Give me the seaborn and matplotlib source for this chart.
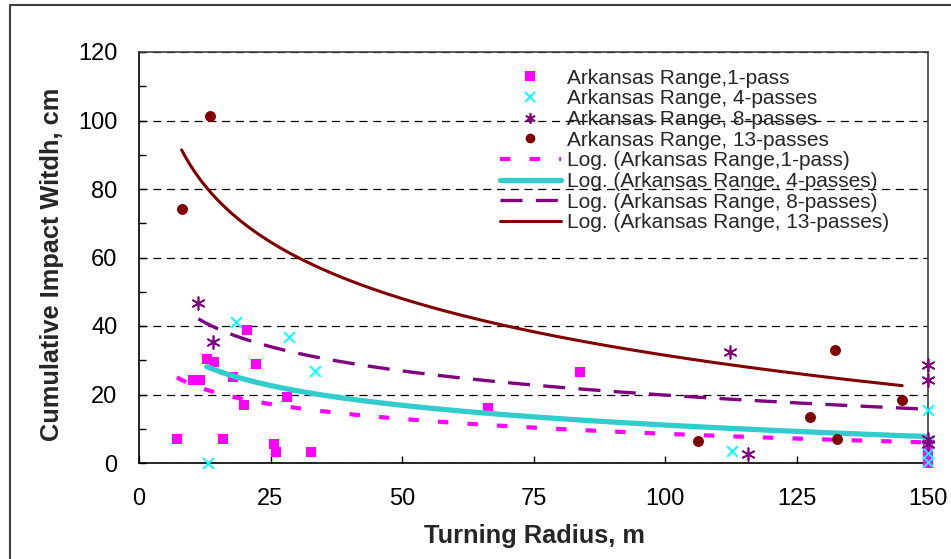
import numpy as np
import pandas as pd
import matplotlib
matplotlib.use("Agg")
import matplotlib.pyplot as plt
import seaborn as sns
from matplotlib.lines import Line2D
from matplotlib.ticker import MultipleLocator

sns.set_theme(style="white")
plt.rcParams['font.family'] = ['Liberation Sans', 'DejaVu Sans']

# ---------------- data ----------------
x_1pass = [7.2, 10.3, 11.6, 13.0, 14.3, 16.0, 17.8, 20.5, 20.0, 22.3, 25.7, 26.0,
           28.2, 32.7, 66.4, 83.8, 150, 150, 150, 150, 150]
y_1pass = [7.0, 24.2, 24.2, 30.4, 29.5, 7.0, 25.2, 38.7, 16.9, 29.0, 5.6, 3.3,
           19.2, 3.3, 16.1, 26.7, 6.0, 4.5, 3.0, 1.5, 0.0]

x_4pass = [13.1, 18.5, 28.6, 33.5, 112.8, 150, 150, 150, 150]
y_4pass = [0.0, 41.3, 36.9, 26.9, 3.5, 15.5, 6.0, 2.8, 0.3]

x_8pass = [11.3, 14.0, 112.4, 115.8, 150, 150, 150, 150]
y_8pass = [46.8, 35.2, 32.4, 2.6, 28.6, 24.1, 7.0, 5.5]

x_13pass = [8.1, 13.5, 106.3, 127.5, 132.4, 132.7, 145.1]
y_13pass = [74.2, 101.2, 6.5, 13.5, 33.1, 6.9, 18.3]

series_labels = ["Arkansas Range,1-pass", "Arkansas Range, 4-passes",
                 "Arkansas Range, 8-passes", "Arkansas Range, 13-passes"]

# logarithmic trendlines  y = a*ln(x) + b  (coefficients)
trend_a = [-6.26, -8.32, -10.2, -23.85]
trend_b = [37.36, 49.4, 66.8, 141.3]
trend_xmin = [7.2, 12.9, 11.3, 8.1]
trend_xmax = [150, 150, 150, 145.1]
trend_labels = ["Log. (Arkansas Range,1-pass)", "Log. (Arkansas Range, 4-passes)",
                "Log. (Arkansas Range, 8-passes)", "Log. (Arkansas Range, 13-passes)"]

x_ticks = [0, 25, 50, 75, 100, 125, 150]
y_ticks = [0, 20, 40, 60, 80, 100, 120]

# ---------------- styles ----------------
W, H = 951, 559
fig = plt.figure(figsize=(W / 100, H / 100), dpi=100)
ax = fig.add_axes([139 / W, 1 - 463 / H, (928 - 139) / W, (463 - 52) / H])

marker_styles = [
    dict(marker="s", s=60, color="#FF00FF", linewidth=0),
    dict(marker="x", s=60, color="#00FFFF", linewidth=1.4),
    dict(marker=(6, 2, 0), s=85, color="#800080", linewidth=1.2),
    dict(marker="o", s=62, color="#800000", linewidth=0),
]
line_styles = [
    dict(color="#FF00FF", linewidth=3.0, linestyle=(0, (2.5, 4.6))),
    dict(color="#33CCCC", linewidth=3.8, linestyle="-"),
    dict(color="#800080", linewidth=2.4, linestyle=(0, (6.6, 4.0))),
    dict(color="#800000", linewidth=2.2, linestyle="-"),
]

xs_all = [x_1pass, x_4pass, x_8pass, x_13pass]
ys_all = [y_1pass, y_4pass, y_8pass, y_13pass]

for i in range(4):
    sns.scatterplot(x=xs_all[i], y=ys_all[i], ax=ax, clip_on=False, zorder=3 + 2 * i,
                    legend=False, **marker_styles[i])
    xt = np.linspace(trend_xmin[i], trend_xmax[i], 200)
    yt = trend_a[i] * np.log(xt) + trend_b[i]
    df = pd.DataFrame({"x": xt, "y": yt})
    sns.lineplot(data=df, x="x", y="y", ax=ax, estimator=None, sort=False,
                 zorder=4 + 2 * i, legend=False, **line_styles[i])

ax.set_xlim(0, 150)
ax.set_ylim(0, 120)
ax.set_xticks(x_ticks)
ax.set_yticks(y_ticks)
ax.yaxis.set_minor_locator(MultipleLocator(10))
ax.tick_params(axis="both", which="both", direction="in", length=5, width=1.0,
               color="black", labelsize=17, labelcolor="black")
ax.tick_params(axis="y", which="both", left=True, right=False, pad=15.5)
ax.tick_params(axis="x", which="both", bottom=True, top=False, pad=18)

ax.yaxis.grid(True, which="major", color="black", linewidth=0.9, linestyle=(0, (6.5, 4.5)))
ax.xaxis.grid(False)
ax.set_axisbelow(True)

for side in ["left", "bottom"]:
    ax.spines[side].set_color("black")
    ax.spines[side].set_linewidth(1.2)
for side in ["top", "right"]:
    ax.spines[side].set_color("#404040")
    ax.spines[side].set_linewidth(1.2)

ax.set_xlabel("Turning Radius, m", fontsize=18.3, fontweight="bold", va="top")
ax.xaxis.set_label_coords((534 - 139) / 789, (463 - 524) / 411)
ax.set_ylabel("Cumulative Impact Witdh, cm", fontsize=18.3, fontweight="bold", va="bottom")
ax.yaxis.set_label_coords((63.5 - 139) / 789, (463 - 264) / 411)

# legend
handles = []
for i in range(4):
    ms = marker_styles[i]
    mk = ms["marker"]
    if mk in ("x",) or isinstance(mk, tuple):
        handles.append(Line2D([], [], linestyle="none", marker=mk, markersize=7.5,
                              markeredgecolor=ms["color"], markerfacecolor=ms["color"],
                              markeredgewidth=ms["linewidth"]))
    else:
        handles.append(Line2D([], [], linestyle="none", marker=mk, markersize=7,
                              markeredgewidth=0, markerfacecolor=ms["color"]))
for i in range(4):
    handles.append(Line2D([], [], **line_styles[i]))
labels = series_labels + trend_labels
ax.legend(handles, labels, loc="upper left", frameon=False, fontsize=15,
          bbox_to_anchor=(500 / W, 1 - 68.5 / H), bbox_transform=fig.transFigure,
          borderpad=0, borderaxespad=0, handlelength=2.92, handletextpad=0.3,
          labelspacing=0.08)

# outer chart-area border (partially cropped)
fig.add_artist(Line2D([10 / W, 10 / W, 1.0], [0.0, 1 - 5 / H, 1 - 5 / H],
                      transform=fig.transFigure, color="#404040", linewidth=1.5))

fig.savefig("out.png", dpi=100)
